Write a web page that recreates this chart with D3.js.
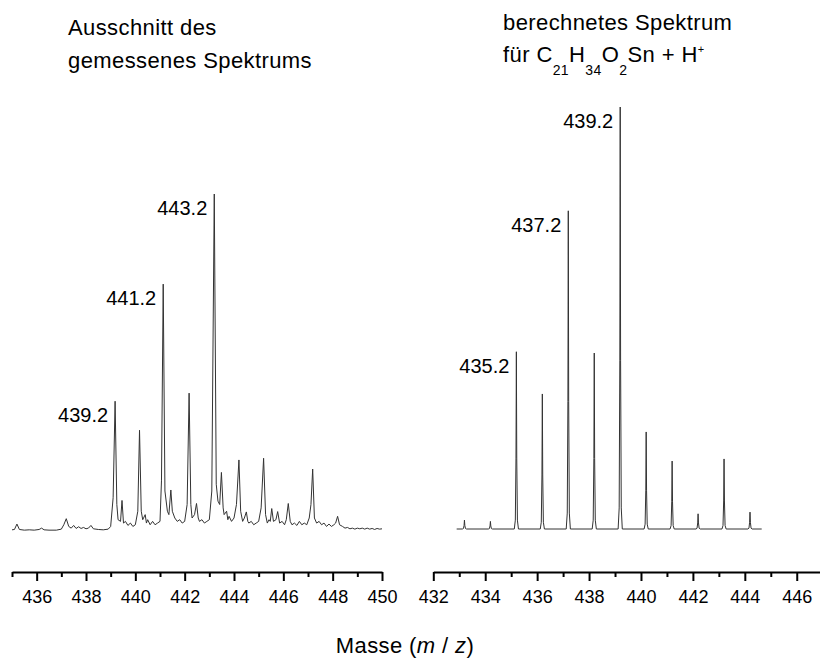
<!DOCTYPE html>
<html>
<head>
<meta charset="utf-8">
<script src="https://cdn.jsdelivr.net/npm/d3@7"></script>
<style>
  body { margin: 0; background: #fff; }
  text { font-family: Arial, "Liberation Sans", sans-serif; fill: #000; }
</style>
</head>
<body>
<div id="chart"></div>
<script>
// measured spectrum: m/z and relative intensity (%)
const measuredMz = [
  435.0, 435.1, 435.2, 435.3, 435.5, 435.7, 435.9, 436.1, 436.2, 436.3, 436.5, 436.8,
  437.0, 437.1, 437.2, 437.3, 437.4, 437.5, 437.6, 437.7, 437.8, 437.9, 438.0, 438.1,
  438.2, 438.3, 438.5, 438.7, 438.9, 439.0, 439.1, 439.18, 439.25, 439.3, 439.4, 439.46,
  439.52, 439.6, 439.7, 439.8, 439.9, 440.0, 440.1, 440.17, 440.24, 440.3, 440.4, 440.45,
  440.5, 440.6, 440.7, 440.8, 440.9, 441.0, 441.06, 441.13, 441.2, 441.3, 441.36, 441.44,
  441.5, 441.6, 441.7, 441.8, 441.9, 442.0, 442.1, 442.18, 442.25, 442.3, 442.4, 442.48,
  442.55, 442.6, 442.7, 442.8, 442.9, 443.0, 443.1, 443.2, 443.28, 443.35, 443.42, 443.49,
  443.56, 443.6, 443.7, 443.75, 443.8, 443.9, 444.0, 444.1, 444.2, 444.27, 444.35, 444.42,
  444.5, 444.56, 444.6, 444.7, 444.8, 444.9, 445.0, 445.1, 445.2, 445.28, 445.35, 445.42,
  445.47, 445.53, 445.6, 445.7, 445.77, 445.85, 445.95, 446.05, 446.12, 446.2, 446.28, 446.35,
  446.45, 446.55, 446.65, 446.75, 446.85, 446.95, 447.05, 447.12, 447.19, 447.26, 447.35, 447.45,
  447.55, 447.65, 447.75, 447.85, 447.95, 448.05, 448.12, 448.2, 448.28, 448.4, 448.5, 448.6,
  448.7, 448.8, 448.9, 449.0, 449.1, 449.2, 449.3, 449.4, 449.5, 449.6, 449.7, 449.8,
  449.9, 450.0
];
const measuredInt = [
  0.5, 0.6, 2.2, 0.6, 0.4, 0.5, 0.4, 0.6, 1.0, 0.5, 0.4, 0.4,
  0.7, 2.0, 3.8, 1.5, 1.0, 1.8, 0.9, 1.4, 0.9, 1.2, 0.8, 1.0,
  1.8, 0.8, 0.6, 0.5, 0.7, 1.5, 10, 38.6, 8, 3.5, 3, 9.2,
  2.5, 3, 1.8, 2.5, 1.5, 2, 6, 30, 6, 3.5, 5, 2.5,
  3.5, 2, 3, 2, 2.5, 3, 15, 73.3, 12, 6, 5, 12.3,
  6, 4, 3, 3.5, 2.5, 3, 8, 41, 8, 4, 5, 8.3,
  4, 3, 3.5, 2.5, 3, 3.5, 12, 100, 14, 9, 8, 17.5,
  7, 5, 6, 3.5, 4.5, 3, 4, 8, 21.2, 6, 3, 4,
  5.8, 3, 2.5, 3, 2, 2.5, 3, 7, 21.7, 5, 2.5, 3.5,
  3, 6.8, 3, 3.5, 5.9, 2.5, 3, 2, 3.5, 8.3, 3, 2,
  2.5, 1.8, 3, 2, 2.5, 2, 4, 8, 18.5, 4, 2.5, 3,
  2, 2.5, 1.5, 2.2, 1.5, 2, 2.5, 4.5, 2, 1.5, 1, 1.2,
  0.8, 1.0, 0.7, 1.0, 0.8, 1.0, 0.7, 1.0, 0.7, 0.9, 0.6, 0.9,
  0.7, 0.8
];
const measuredLabelMz = [439.18, 441.13, 443.2];
const measuredLabels = ["439.2", "441.2", "443.2"];

// calculated isotope pattern for C21H34O2Sn + H+
const calcMz = [433.2, 434.2, 435.2, 436.2, 437.2, 438.2, 439.2, 440.2, 441.2, 442.2, 443.2, 444.2];
const calcInt = [2.1, 1.8, 42, 32, 75.4, 41.7, 100, 23, 16.1, 3.6, 16.6, 4.0];
const calcRange = [432.9, 444.65];
const calcLabelMz = [435.2, 437.2, 439.2];
const calcLabels = ["435.2", "437.2", "439.2"];

const leftDomain = [435, 450];
const rightDomain = [432, 447];

const width = 820, height = 659;

const svg = d3.select("#chart")
  .append("svg")
  .attr("width", width)
  .attr("height", height)
  .style("background-color", "#fff");

const xL = d3.scaleLinear().domain(leftDomain).range([12, 382]);
const yL = d3.scaleLinear().domain([0, 100]).range([531.5, 194]);
const xR = d3.scaleLinear().domain(rightDomain).range([433.3, 822.7]);
const yR = d3.scaleLinear().domain([0, 100]).range([529, 107]);

// measured trace
const measured = measuredMz.map((m, i) => [m, measuredInt[i]]);
svg.append("path")
  .datum(measured)
  .attr("fill", "none")
  .attr("stroke", "#333")
  .attr("stroke-width", 1)
  .attr("d", d3.line().x(d => xL(d[0])).y(d => yL(d[1])));

// calculated trace, narrow peak profile around each stick
const peakShape = [[-0.08, 0], [-0.04, 0.05], [-0.015, 0.4], [0, 1], [0.015, 0.4], [0.04, 0.05], [0.08, 0]];
const calcPoints = [[calcRange[0], 0]];
calcMz.forEach((m, i) => {
  peakShape.forEach(([dx, f]) => calcPoints.push([m + dx, calcInt[i] * f]));
});
calcPoints.push([calcRange[1], 0]);

svg.append("path")
  .datum(calcPoints)
  .attr("fill", "none")
  .attr("stroke", "#333")
  .attr("stroke-width", 1)
  .attr("d", d3.line().x(d => xR(d[0])).y(d => yR(d[1])));

// peak labels
const intAt = (mz, ints, m) => ints[d3.minIndex(mz, v => Math.abs(v - m))];

svg.selectAll(".mlabel")
  .data(measuredLabelMz)
  .enter()
  .append("text")
  .attr("class", "mlabel")
  .text((d, i) => measuredLabels[i])
  .attr("x", d => xL(d) - 7)
  .attr("y", d => yL(intAt(measuredMz, measuredInt, d)) + 21)
  .attr("text-anchor", "end")
  .style("font-size", "20px");

svg.selectAll(".clabel")
  .data(calcLabelMz)
  .enter()
  .append("text")
  .attr("class", "clabel")
  .text((d, i) => calcLabels[i])
  .attr("x", d => xR(d) - 7)
  .attr("y", d => yR(intAt(calcMz, calcInt, d)) + 21)
  .attr("text-anchor", "end")
  .style("font-size", "20px");

// axes: major ticks on even values (labelled), minor on odd
function drawAxis(x, domain) {
  const ticks = d3.range(domain[0], domain[1] + 1);
  const g = svg.append("g")
    .attr("transform", "translate(0,572)")
    .call(d3.axisBottom(x)
      .tickValues(ticks)
      .tickSizeInner(9)
      .tickSizeOuter(0)
      .tickPadding(9)
      .tickFormat(d => d % 2 === 0 ? d : ""));
  g.select(".domain").attr("stroke", "#000").attr("stroke-width", 2);
  g.selectAll(".tick line")
    .attr("stroke", "#000")
    .attr("stroke-width", 2)
    .attr("y2", d => d % 2 === 0 ? 9 : 5);
  g.selectAll(".tick text")
    .style("font-size", "18px")
    .style("fill", "#000");
}
drawAxis(xL, leftDomain);
drawAxis(xR, rightDomain);

// axis title
const xt = svg.append("text")
  .attr("x", 405)
  .attr("y", 653)
  .attr("text-anchor", "middle")
  .style("font-size", "22px")
  .style("letter-spacing", "0.4px");
xt.append("tspan").text("Masse (");
xt.append("tspan").text("m").style("font-style", "italic");
xt.append("tspan").text(" / ");
xt.append("tspan").text("z").style("font-style", "italic");
xt.append("tspan").text(")");

// panel titles
const titleStyle = sel => sel.style("font-size", "22px").style("letter-spacing", "0.4px");
svg.append("text").attr("x", 68).attr("y", 35).call(titleStyle).text("Ausschnitt des");
svg.append("text").attr("x", 68).attr("y", 68).call(titleStyle).text("gemessenes Spektrums");
svg.append("text").attr("x", 503).attr("y", 30).call(titleStyle).text("berechnetes Spektrum");

const f = svg.append("text").attr("x", 503).attr("y", 62).call(titleStyle);
f.append("tspan").text("für C");
f.append("tspan").text("21").attr("dy", 13).style("font-size", "14px");
f.append("tspan").text("H").attr("dy", -13);
f.append("tspan").text("34").attr("dy", 13).style("font-size", "14px");
f.append("tspan").text("O").attr("dy", -13);
f.append("tspan").text("2").attr("dy", 13).style("font-size", "14px");
f.append("tspan").text("Sn + H").attr("dy", -13);
f.append("tspan").text("+").attr("dy", -9).style("font-size", "11px");
</script>
</body>
</html>
